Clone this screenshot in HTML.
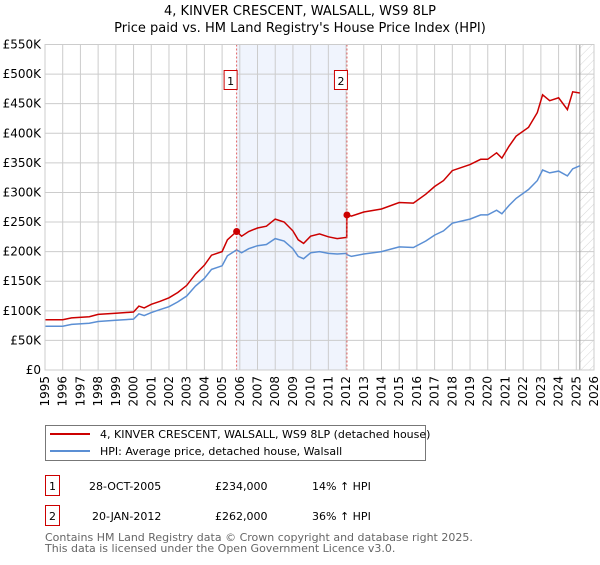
<!DOCTYPE html>
<html><head><meta charset="utf-8"><style>
body{margin:0;background:#fff;font-family:"Liberation Sans","DejaVu Sans",sans-serif;}
svg text{font-family:"DejaVu Sans","Liberation Sans",sans-serif;}
</style></head><body>
<svg id="c" width="600" height="560" xmlns="http://www.w3.org/2000/svg">
<defs><pattern id="hatch" width="6" height="6" patternUnits="userSpaceOnUse" patternTransform="rotate(45)"><line x1="0" y1="0" x2="0" y2="6" stroke="#ccc" stroke-width="0.8"/></pattern></defs>
<text x="300" y="15" text-anchor="middle" font-size="13">4, KINVER CRESCENT, WALSALL, WS9 8LP</text>
<text x="300" y="32" text-anchor="middle" font-size="13">Price paid vs. HM Land Registry's House Price Index (HPI)</text>
<g id="plot"></g>
<g>
<rect x="45.5" y="425.5" width="380" height="35" fill="#fff" stroke="#777"/>
<line x1="50" y1="434" x2="90" y2="434" stroke="#cc0000" stroke-width="2"/>
<text x="100" y="438" font-size="11">4, KINVER CRESCENT, WALSALL, WS9 8LP (detached house)</text>
<line x1="50" y1="451" x2="90" y2="451" stroke="#5b8fd4" stroke-width="2"/>
<text x="100" y="455" font-size="11">HPI: Average price, detached house, Walsall</text>
</g>
<g font-size="11">
<rect x="45.5" y="475.5" width="14" height="20" fill="#fff" stroke="#cc0000"/><text x="52.5" y="490" text-anchor="middle">1</text>
<text x="89" y="490">28-OCT-2005</text><text x="215" y="490">£234,000</text><text x="312" y="490">14% ↑ HPI</text>
<rect x="45.5" y="505.5" width="14" height="20" fill="#fff" stroke="#cc0000"/><text x="52.5" y="520" text-anchor="middle">2</text>
<text x="92" y="520">20-JAN-2012</text><text x="215" y="520">£262,000</text><text x="312" y="520">36% ↑ HPI</text>
</g>
<text x="45" y="541" font-size="11" fill="#666">Contains HM Land Registry data © Crown copyright and database right 2025.</text>
<text x="45" y="552" font-size="11" fill="#666">This data is licensed under the Open Government Licence v3.0.</text>
</svg>
<script>
const years=[1995,1996,1996.5,1997.5,1998,1999,2000,2000.3,2000.6,2001,2001.5,2002,2002.5,2003,2003.5,2004,2004.4,2005,2005.3,2005.82,2006.1,2006.5,2007,2007.5,2008,2008.5,2009,2009.3,2009.6,2010,2010.5,2011,2011.5,2012.04,2012.05,2012.3,2013,2014,2015,2015.8,2016.5,2017,2017.5,2018,2019,2019.6,2020,2020.5,2020.8,2021.2,2021.6,2022.3,2022.8,2023.1,2023.5,2024,2024.5,2024.8,2025.2];
const hpiValues=[74,74,77,79,82,84,86,95,92,97,102,107,115,125,142,155,170,176,193,203,198,205,210,212,222,218,205,192,188,198,200,197,196,197,195,192,196,200,208,207,218,228,235,248,255,262,262,270,264,278,290,305,320,338,333,336,328,340,345];
const priceValues=[85,85,88,90,94,96,98,108,105,111,116,122,131,143,162,177,194,200,220,234,226,234,240,243,255,250,235,220,214,226,230,225,222,224,262,260,267,272,283,282,297,310,320,337,347,356,356,367,358,378,395,410,435,465,455,460,440,470,468];
const sales=[{n:"1",year:2005.82,value:234},{n:"2",year:2012.05,value:262}];
const yTicks=[0,50,100,150,200,250,300,350,400,450,500,550];
const xTicks=[1995,1996,1997,1998,1999,2000,2001,2002,2003,2004,2005,2006,2007,2008,2009,2010,2011,2012,2013,2014,2015,2016,2017,2018,2019,2020,2021,2022,2023,2024,2025,2026];
const L=45,R=594,T=44.5,B=370;
const x=v=>L+(v-1995)/(2026-1995)*(R-L);
const y=v=>B-v/550*(B-T);
const g=document.getElementById('plot');
const NS="http://www.w3.org/2000/svg";
function mk(t,a){const e=document.createElementNS(NS,t);for(const k in a)e.setAttribute(k,a[k]);g.appendChild(e);return e;}
let e=mk('rect',{x:x(sales[0].year),y:T,width:x(sales[1].year)-x(sales[0].year),height:B-T,fill:'#f0f4fd'});


e=mk('rect',{x:x(2025.2),y:T,width:R-x(2025.2),height:B-T,fill:'url(#hatch)'});


yTicks.forEach(v=>{
 let l=mk('line',{x1:L,x2:R,y1:y(v),y2:y(v),stroke:'#ccc','stroke-width':1});
 
 
 let t=mk('text',{x:L-4,y:y(v)+4,'text-anchor':'end','font-size':12});
 t.textContent=v===0?'£0':'£'+v+'K';
 
 
});
xTicks.forEach(v=>{
 let l=mk('line',{x1:x(v),x2:x(v),y1:T,y2:B,stroke:'#ccc','stroke-width':1});
 
 
 let t=mk('text',{x:0,y:0,'text-anchor':'end','font-size':12,transform:`translate(${x(v)+4},${B+6}) rotate(-90)`});
 t.textContent=v;
 
 
});
e=mk('line',{x1:x(2025.2),x2:x(2025.2),y1:T,y2:B,stroke:'#999','stroke-width':1});


function path(vals,col,name){
 const p=mk('path',{d:years.map((yr,i)=>(i?'L':'M')+x(yr).toFixed(1)+','+y(vals[i]).toFixed(1)).join(''),fill:'none',stroke:col,'stroke-width':1.5});
 
 
}
path(hpiValues,'#5b8fd4','hpi-line');
path(priceValues,'#cc0000','price-paid-line');
sales.forEach(s=>{
 let l=mk('line',{x1:x(s.year),x2:x(s.year),y1:T,y2:B,stroke:'#e06060','stroke-width':1,'stroke-dasharray':'2,2'});
 
 
 let c=mk('circle',{cx:x(s.year),cy:y(s.value),r:3.5,fill:'#cc0000'});
 
 
 let r=mk('rect',{x:x(s.year)-12.5,y:70.5,width:13,height:19,fill:'#fff',stroke:'#cc0000'});
 
 
 let t=mk('text',{x:x(s.year)-6,y:85,'text-anchor':'middle','font-size':11});
 t.textContent=s.n;
 
 
});
e=mk('rect',{x:L,y:T,width:R-L,height:B-T,fill:'none',stroke:'#ccc'});


</script>
</body></html>
